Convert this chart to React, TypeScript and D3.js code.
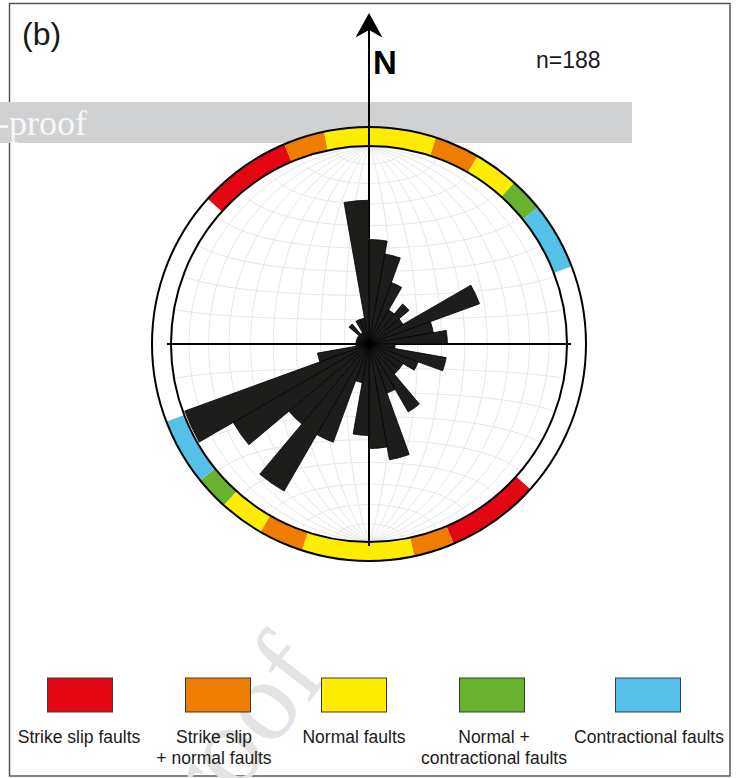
import React from 'react';
import * as d3 from 'd3';

// Rose diagram bins (azimuth of bin start, 10° wide) and fault counts per bin (n = 188)
const binStart = [0, 10, 20, 30, 40, 50, 60, 70, 80, 90, 100, 110, 120, 130, 140, 150, 160, 170,
  180, 190, 200, 210, 220, 230, 240, 250, 260, 270, 280, 290, 300, 310, 320, 330, 340, 350];
const binCount = [8, 7, 5, 3, 4, 3, 9, 5, 6, 2, 6, 4, 3, 3, 6, 4, 9, 8,
  7, 3, 8, 13, 8, 12, 15, 4, 1, 1, 1, 1, 1, 2, 1, 2, 2, 11];
const binWidth = 10;

// Fault types (legend)
const faultLabels = [
  ['Strike slip faults'],
  ['Strike slip', '+ normal faults'],
  ['Normal faults'],
  ['Normal +', 'contractional faults'],
  ['Contractional faults'],
];
const faultColors = ['#e30613', '#ef7d00', '#ffed00', '#68b22e', '#55c1e9'];

// Outer ring segments: azimuth from, to, fault type index
const ringFrom = [312, 337, 348, 18, 30, 42, 51, 132, 157, 168, 198, 210, 222, 231];
const ringTo = [337, 348, 378, 30, 42, 51, 69, 157, 168, 198, 210, 222, 231, 249];
const ringType = [0, 1, 2, 1, 2, 3, 4, 0, 1, 2, 1, 2, 3, 4];

const W = 741;
const H = 778;
const cx = 369;
const cy = 344;
const R = 198;
const R2 = 217;

const rad = (d: number) => (d * Math.PI) / 180;

export default function App() {
  const rScale = d3.scaleLinear().domain([0, 15]).range([0, 196]);
  const arc = d3.arc<any>();

  const projection = d3
    .geoAzimuthalEqualArea()
    .scale(R / Math.SQRT2)
    .translate([cx, cy])
    .clipAngle(90)
    .precision(0.1);
  const geoPath = d3.geoPath(projection);
  const graticule = d3.geoGraticule().extent([[-180, -90], [180, 90]]).step([10, 10]);
  const gridLines = graticule.lines();

  const legendX = [80, 218, 354, 492, 648];
  const legendLabelX = [79, 214, 354, 494, 649];

  return (
    <svg
      width={W}
      height={H}
      style={{ position: 'absolute', left: 0, top: 0, background: '#fff' }}
      fontFamily="'Liberation Sans', Arial, sans-serif"
    >
      <rect x={0} y={0} width={W} height={H} fill="#fff" />
      {/* frame */}
      <rect x={9.5} y={3.5} width={720.5} height={772.5} fill="none" stroke="#4d4d4d" strokeWidth={1.4} />

      {/* watermark band */}
      <rect x={0} y={102} width={632} height={41} fill="#d0d1d3" />
      <text x={-3} y={135} fontFamily="'Liberation Serif', 'Times New Roman', serif" fontSize={36} fill="#f7f7f7">
        -proof
      </text>
      {/* diagonal watermark */}
      <text
        transform="translate(330,675) rotate(-52)"
        textAnchor="end"
        fontFamily="'Liberation Serif', 'Times New Roman', serif"
        fontSize={115}
        fill="#e3e3e3"
      >
        proof
      </text>

      {/* stereonet grid */}
      <circle cx={cx} cy={cy} r={R} fill="#fff" />
      <g fill="none" stroke="#e3e3e3" strokeWidth={0.9}>
        {gridLines.map((l, i) => (
          <path key={i} d={geoPath(l as any) || ''} />
        ))}
      </g>

      {/* outer ring */}
      <g>
        {ringFrom.map((f, i) => (
          <path
            key={i}
            transform={`translate(${cx},${cy})`}
            d={arc({ innerRadius: R, outerRadius: R2, startAngle: rad(f), endAngle: rad(ringTo[i]) }) || ''}
            fill={faultColors[ringType[i]]}
          />
        ))}
      </g>
      <circle cx={cx} cy={cy} r={R} fill="none" stroke="#000" strokeWidth={2} />
      <circle cx={cx} cy={cy} r={R2} fill="none" stroke="#000" strokeWidth={2} />

      {/* axes */}
      <line x1={cx - 202} x2={cx + 202} y1={cy} y2={cy} stroke="#000" strokeWidth={2} />
      <line x1={cx} x2={cx} y1={26} y2={cy + 202} stroke="#000" strokeWidth={2} />
      <path d={`M${cx},13 L${cx + 13.5},37.5 L${cx},30 L${cx - 13.5},37.5 Z`} fill="#000" />

      {/* rose bars */}
      <g transform={`translate(${cx},${cy})`}>
        {binStart.map((s, i) => (
          <path
            key={i}
            d={
              arc({
                innerRadius: 0,
                outerRadius: rScale(binCount[i]),
                startAngle: rad(s),
                endAngle: rad(s + binWidth),
              }) || ''
            }
            fill="#1d1d1b"
            stroke="#000"
            strokeWidth={0.8}
          />
        ))}
      </g>

      {/* labels */}
      <text x={22} y={45} fontSize={32} fill="#1a1a1a">(b)</text>
      <text x={373} y={74} fontSize={33} fontWeight="bold" fill="#000">N</text>
      <text x={536} y={68} fontSize={23} fill="#1a1a1a">n=188</text>

      {/* legend */}
      {faultColors.map((c, i) => (
        <g key={i}>
          <rect x={legendX[i] - 32.5} y={678} width={65} height={34} fill={c} stroke="#3a3a3a" strokeWidth={1} />
          {faultLabels[i].map((t, j) => (
            <text key={j} x={legendLabelX[i]} y={743 + j * 21} fontSize={17.5} textAnchor="middle" fill="#1a1a1a">
              {t}
            </text>
          ))}
        </g>
      ))}
    </svg>
  );
}
